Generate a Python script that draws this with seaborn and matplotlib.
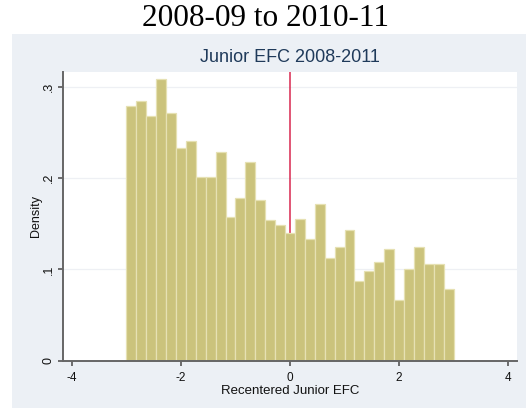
import numpy as np
import pandas as pd
import matplotlib
matplotlib.use("Agg")
import matplotlib.pyplot as plt
import seaborn as sns

# Histogram of recentered Junior EFC (density per bin), 33 bins from -3 to 3
bin_lo, bin_hi, n_bins = -3.0, 3.0, 33
density = [0.279, 0.284, 0.268, 0.308, 0.271, 0.233, 0.241, 0.201, 0.201, 0.228,
           0.157, 0.178, 0.218, 0.176, 0.154, 0.148, 0.140, 0.155, 0.133, 0.172,
           0.112, 0.1245, 0.1435, 0.087, 0.098, 0.108, 0.122, 0.066, 0.100, 0.1245,
           0.106, 0.106, 0.079]
x_ticks = [-4, -2, 0, 2, 4]
x_tick_labels = ["-4", "-2", "0", "2", "4"]
y_ticks = [0, 0.1, 0.2, 0.3]
y_tick_labels = ["0", ".1", ".2", ".3"]
cutoff = 0.0

edges = np.linspace(bin_lo, bin_hi, n_bins + 1)
centers = (edges[:-1] + edges[1:]) / 2
df = pd.DataFrame({"efc": centers, "density": density})

sns.set_style("white")
plt.rcParams["font.family"] = ["Liberation Sans", "DejaVu Sans"]
plt.rcParams["xtick.bottom"] = True
plt.rcParams["ytick.left"] = True

W, H = 526, 408
fig = plt.figure(figsize=(W / 100, H / 100), dpi=100)
fig.patch.set_facecolor("white")

# Stata-like graph region behind the plot
bg = fig.add_axes([12 / W, 0, (W - 12) / W, (H - 34) / H])
bg.set_facecolor("#ecf0f5")
bg.set_xticks([])
bg.set_yticks([])
for s in bg.spines.values():
    s.set_visible(False)

ax = fig.add_axes([63 / W, (H - 360.7) / H, (517 - 63) / W, (360.7 - 72) / H])
ax.set_facecolor("white")

ax.axvline(cutoff, color="#d8274f", lw=1.1, zorder=1)
sns.histplot(data=df, x="efc", weights="density", bins=edges.tolist(), ax=ax,
             color="#cbc37c", edgecolor="#e6e1b3", linewidth=0.9,
             alpha=1, zorder=2)

ax.set_xlim(-4.16, 4.16)
ax.set_ylim(0, 0.316)
ax.set_yticks(y_ticks)
ax.set_yticklabels(y_tick_labels, rotation=90, va="center")
ax.set_xticks(x_ticks)
ax.set_xticklabels(x_tick_labels)
ax.yaxis.grid(True, color="#eef0f4", lw=0.9, zorder=0)
ax.set_axisbelow(True)

for side in ["top", "right"]:
    ax.spines[side].set_visible(False)
for side in ["left", "bottom"]:
    ax.spines[side].set_color("#666666")
    ax.spines[side].set_linewidth(1.4)
ax.tick_params(axis="both", which="major", direction="out", length=3.8,
               width=1.2, color="#555555", labelcolor="#111111",
               bottom=True, left=True)
ax.tick_params(axis="x", labelsize=8.5, pad=4)
ax.tick_params(axis="y", labelsize=9, pad=2)

ax.set_xlabel("Recentered Junior EFC", fontsize=9.5, color="#111111", labelpad=1)
ax.set_ylabel("Density", fontsize=9, color="#111111", labelpad=1)

fig.text(290 / W, 1 - 57 / H, "Junior EFC 2008-2011", ha="center", va="center",
         fontsize=13, color="#1f3a5a")
fig.text(265 / W, 1 - 18 / H, "2008-09 to 2010-11", ha="center", va="center",
         fontsize=22.5, color="black", family=["Liberation Serif", "DejaVu Serif"])

fig.savefig("out.png", dpi=100, facecolor=fig.get_facecolor())
